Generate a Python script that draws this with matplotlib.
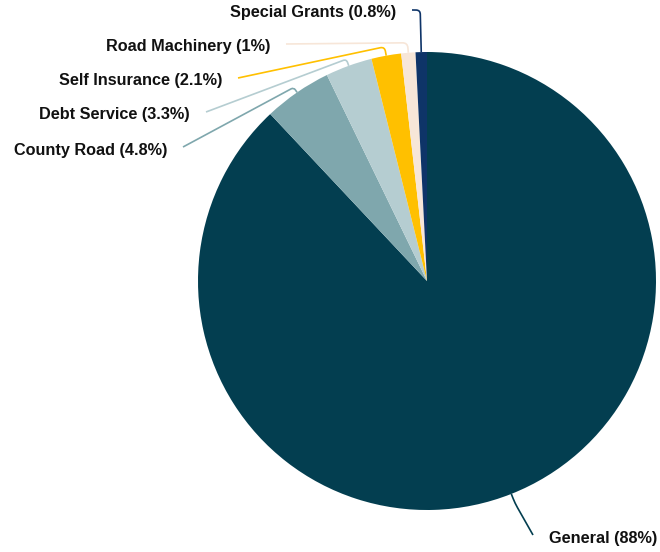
import numpy as np
import matplotlib
matplotlib.use("Agg")
import matplotlib.pyplot as plt
from matplotlib.path import Path
from matplotlib.patches import PathPatch

# fund shares, clockwise from 12 o'clock
funds = ["General", "County Road", "Debt Service", "Self Insurance",
         "Road Machinery", "Special Grants"]
shares = [88, 4.8, 3.3, 2.1, 1, 0.8]
share_text = ["88%", "4.8%", "3.3%", "2.1%", "1%", "0.8%"]
colors = ["#033e50", "#7fa7ad", "#b5cdd1", "#ffc000", "#f7e6d8", "#0e3468"]

W, H = 660, 552
cx, cy, R = 427, H - 281, 229

# label anchor (pixel x, pixel y from top), side of the line (+1 left label, -1 right label)
label_pos = [(549, 538), (167, 150), (190, 115), (222, 81), (270, 47), (396, 13)]
label_side = [-1, 1, 1, 1, 1, 1]
elbow_ext = [10, 6, 7, 9, 10, 42]

plt.rcParams["font.family"] = ["Liberation Sans", "DejaVu Sans"]
fig = plt.figure(figsize=(W / 100, H / 100), dpi=100)
ax = fig.add_axes([0, 0, 1, 1])

ax.pie(shares, colors=colors, startangle=90, counterclock=False,
       center=(cx, cy), radius=R, wedgeprops=dict(linewidth=0))

cum = 0.0
for i, name in enumerate(funds):
    mid = np.deg2rad(90 - 360 * (cum + shares[i] / 2) / 100)
    cum += shares[i]
    ux, uy = np.cos(mid), np.sin(mid)
    start = np.array([cx + R * ux, cy + R * uy])
    elbow = np.array([cx + (R + elbow_ext[i]) * ux, cy + (R + elbow_ext[i]) * uy])
    lx, ly = label_pos[i]
    side = label_side[i]
    end = np.array([lx + 16 * side, H - ly + 3])

    # radial stub, rounded corner, then straight to the label
    a = elbow - start
    b = end - elbow
    rc = min(6, np.linalg.norm(a) * 0.5, np.linalg.norm(b) * 0.5)
    p1 = elbow - a / np.linalg.norm(a) * rc
    p2 = elbow + b / np.linalg.norm(b) * rc
    path = Path([start, p1, elbow, p2, end],
                [Path.MOVETO, Path.LINETO, Path.CURVE3, Path.CURVE3, Path.LINETO])
    ax.add_patch(PathPatch(path, fill=False, edgecolor=colors[i], linewidth=1.2))

    ax.text(lx, H - ly, f"{name} ({share_text[i]})",
            ha="right" if side == 1 else "left", va="center",
            fontsize=11.7, fontweight="bold", color="#111111")

ax.set_xlim(0, W)
ax.set_ylim(0, H)
ax.set_aspect("auto")
ax.axis("off")

fig.savefig("out.png", dpi=100)
